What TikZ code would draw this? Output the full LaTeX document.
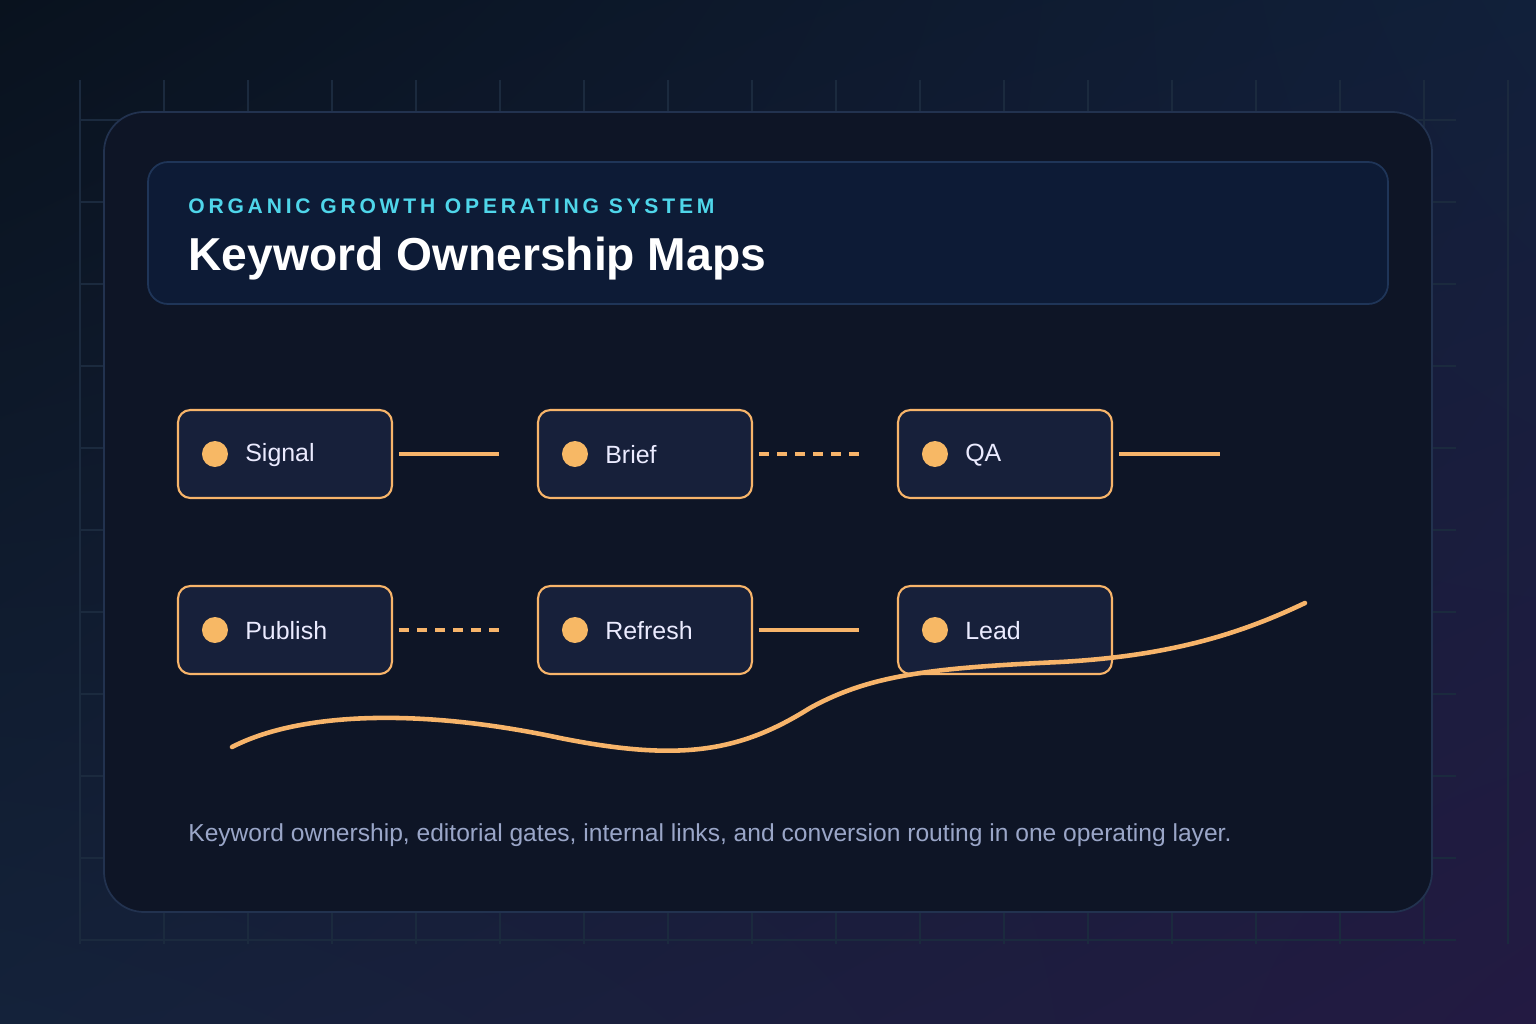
\documentclass[tikz,border=0pt]{standalone}
\usepackage{fontspec}
\setmainfont{Liberation Sans}
\usetikzlibrary{positioning, calc, backgrounds, shadings}
\definecolor{bgA}{HTML}{09121E}
\definecolor{bgM}{HTML}{11203A}
\definecolor{bgB}{HTML}{231A42}
\definecolor{bgC}{HTML}{14223A}
\definecolor{cardfill}{HTML}{0E1526}
\definecolor{cardline}{HTML}{22324F}
\definecolor{headfill}{HTML}{0D1B36}
\definecolor{headline}{HTML}{1F3558}
\definecolor{boxfill}{HTML}{17203A}
\definecolor{amber}{HTML}{F7B46A}
\definecolor{cyantxt}{HTML}{4FD6EA}
\definecolor{captxt}{HTML}{9AA6C8}
\definecolor{gridc}{HTML}{1B2A3E}
\tikzset{%
  stage/.style    = {draw = amber, line width = 1.2pt, rounded corners = 7pt,
    fill = boxfill, minimum width = 4.28cm, minimum height = 1.76cm},
  stagetxt/.style = {anchor = west, text = white!92!blue, font = \fontsize{14.2}{17}\selectfont},
  dot/.style     = {circle, fill = amber!95!yellow, minimum size = 0.52cm, inner sep = 0pt},
  link/.style    = {draw = amber, line width = 2pt, shorten <= 0.12cm},
  dashlink/.style = {link, dash pattern = on 0.2cm off 0.16cm}
}
\begin{document}
\begin{tikzpicture}[x = 0.02cm, y = -0.02cm]
% background
\shade[upper left = bgA, upper right = bgM, lower left = bgC, lower right = bgB]
  (0,0) rectangle (1536,1024);
\useasboundingbox (0,0) rectangle (1536,1024);
% grid
\foreach \gx in {80,164,...,1508}
  \draw[gridc, line width = 0.6pt] (\gx,80) -- (\gx,944);
\foreach \gy in {120,202,...,940}
  \draw[gridc, line width = 0.6pt] (80,\gy) -- (1456,\gy);
% card and header
\draw[cardline, fill = cardfill, line width = 1pt, rounded corners = 0.8cm]
  (104,112) rectangle (1432,912);
\draw[headline, fill = headfill, line width = 1pt, rounded corners = 0.4cm]
  (148,162) rectangle (1388,304);
\node[anchor = base west, text = cyantxt, inner sep = 0pt,
  font = \fontsize{12}{14}\selectfont\bfseries\addfontfeature{LetterSpace = 18}]
  (kicker) at (188,214) {ORGANIC GROWTH OPERATING SYSTEM};
\node[anchor = base west, text = white, inner sep = 0pt,
  font = \fontsize{26.3}{30}\selectfont\bfseries]
  (title) at (188,270) {Keyword Ownership Maps};
% stages
\foreach \nm/\tx/\cx/\cy in {signal/Signal/285/454, brief/Brief/645/454, qa/QA/1005/454,
  publish/Publish/285/630, refresh/Refresh/645/630, lead/Lead/1005/630} {
  \node[stage] (\nm) at (\cx,\cy) {};
  \node[dot] (\nm dot) at ($(\nm.west) + (38,0)$) {};
  \node[stagetxt, inner sep = 0pt] (\nm txt) at ($(\nm.west) + (68,1)$) {\tx};
}
\coordinate (qaend) at (1220,454);
% links
\draw[link] (signal.east) -- ([xshift = -0.76cm]brief.west);
\draw[dashlink] (brief.east) -- ([xshift = -0.76cm]qa.west);
\draw[link] (qa.east) -- (qaend);
\draw[dashlink] (publish.east) -- ([xshift = -0.76cm]refresh.west);
\draw[link] (refresh.east) -- ([xshift = -0.76cm]lead.west);
% trend curve
\draw[amber, line width = 2.6pt, line cap = round]
  (232,747) .. controls (300,712) and (420,708) .. (560,738)
  .. controls (680,762) and (740,752) .. (810,708)
  .. controls (870,675) and (930,668) .. (1060,662)
  .. controls (1170,656) and (1240,634) .. (1305,603);
% caption
\node[anchor = base west, text = captxt, inner sep = 0pt,
  font = \fontsize{14}{17}\selectfont]
  (caption) at (188,841) {Keyword ownership, editorial gates, internal links, and conversion routing in one operating layer.};
\end{tikzpicture}
\end{document}
